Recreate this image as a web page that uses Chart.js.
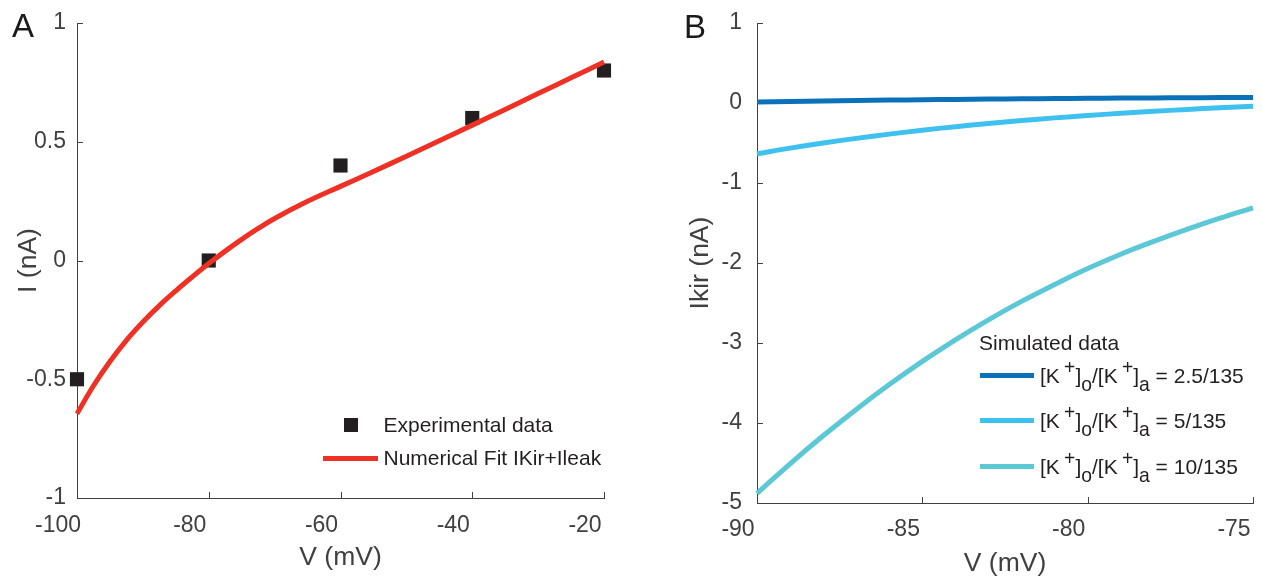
<!DOCTYPE html>
<html>
<head>
<meta charset="utf-8">
<script src="https://cdn.jsdelivr.net/npm/chart.js@4"></script>
<style>
  html, body { margin: 0; padding: 0; background: #fff; }
  body { width: 1262px; height: 583px; position: relative; overflow: hidden; font-family: 'Liberation Sans', Arial, sans-serif; }
  .panel { position: absolute; top: 0; width: 631px; height: 583px; }
  .letter { position: absolute; font-size: 33px; line-height: 33px; color: #1a1a1a; }
  .leg { position: absolute; font-size: 21px; color: #231f20; white-space: nowrap; height: 30px; line-height: 30px; }
  .sw { position: absolute; height: 5px; }
  .leg sup, .leg sub { font-size: 0.92em; position: relative; vertical-align: baseline; }
  .leg sup { top: -0.45em; margin-left: 0.22em; }
  .leg sub { top: 0.45em; }
</style>
</head>
<body>
<div class="panel" style="left:0"><canvas id="chartA" width="631" height="583"></canvas></div>
<div class="panel" style="left:631px"><canvas id="chartB" width="631" height="583"></canvas></div>
<div class="letter" style="left:12px; top:9px">A</div>
<div class="letter" style="left:684px; top:10px">B</div>
<div id="legendA"></div>
<div id="legendB"></div>
<script>
// panel A: measured I-V points and the fitted curve
const vExp = [-100, -80, -60, -40, -20];
const iExp = [-0.5, 0, 0.4, 0.6, 0.8];
const vFit = [-100, -97.5, -95, -92.5, -90, -87.5, -85, -82.5, -80, -77.5, -75, -72.5, -70, -65, -60, -55, -50, -45, -40, -35, -30, -25, -20];
const iFit = [-0.645, -0.5275, -0.425, -0.336, -0.259, -0.19, -0.1275, -0.069, -0.013, 0.0395, 0.089, 0.135, 0.177, 0.249, 0.312, 0.375, 0.439, 0.504, 0.57, 0.636, 0.703, 0.769, 0.836];
const xTicksA = [-100, -80, -60, -40, -20];
const yTicksA = [-1, -0.5, 0, 0.5, 1];
const labelsA = ['Experimental data', 'Numerical Fit IKir+Ileak'];

// panel B: simulated Ikir for three potassium ratios
const vSim = [-90, -89, -88, -87, -86, -85, -84, -83, -82, -81, -80, -79, -78, -77, -76, -75];
const iSim25 = [0.012, 0.019, 0.025, 0.031, 0.036, 0.041, 0.045, 0.049, 0.053, 0.056, 0.059, 0.062, 0.064, 0.066, 0.068, 0.07];
const iSim5 = [-0.635, -0.564, -0.5, -0.442, -0.389, -0.34, -0.296, -0.256, -0.219, -0.186, -0.156, -0.129, -0.104, -0.081, -0.06, -0.041];
const iSim10 = [-4.88, -4.51, -4.16, -3.83, -3.52, -3.23, -2.96, -2.71, -2.48, -2.27, -2.07, -1.89, -1.73, -1.58, -1.44, -1.31];
const xTicksB = [-90, -85, -80, -75];
const yTicksB = [-5, -4, -3, -2, -1, 0, 1];
const ratiosB = ['2.5/135', '5/135', '10/135'];
const coloursB = ['#0b72ba', '#3ec1ee', '#5cc8d6'];

const axisColor = '#404040';
const tickFont = { family: 'Liberation Sans', size: 23 };
const titleFont = { family: 'Liberation Sans', size: 26.5 };

// matlab style ticks, pointing into the plot
const inwardTicks = {
  id: 'inwardTicks',
  beforeDatasetsDraw(chart) {
    const { ctx, chartArea: a, scales } = chart;
    ctx.save();
    ctx.strokeStyle = axisColor;
    ctx.lineWidth = 1;
    ctx.beginPath();
    scales.x.ticks.forEach(t => {
      const px = Math.round(scales.x.getPixelForValue(t.value)) + 0.5;
      ctx.moveTo(px, a.bottom); ctx.lineTo(px, a.bottom - 6);
    });
    scales.y.ticks.forEach(t => {
      const py = Math.round(scales.y.getPixelForValue(t.value)) + 0.5;
      ctx.moveTo(a.left, py); ctx.lineTo(a.left + 6, py);
    });
    ctx.stroke();
    ctx.restore();
  }
};

function pts(xs, ys) { return xs.map((x, i) => ({ x: x, y: ys[i] })); }

function axes(o) {
  return {
    x: {
      type: 'linear', min: o.xTicks[0], max: o.xTicks[o.xTicks.length - 1],
      afterBuildTicks: s => { s.ticks = o.xTicks.map(v => ({ value: v })); },
      afterFit: s => { s.height = o.xHeight; s.paddingLeft = 0; s.paddingRight = 0; },
      grid: { display: false, drawTicks: false },
      border: { display: true, color: axisColor, width: 1 },
      ticks: { font: tickFont, color: axisColor, padding: o.xPad, labelOffset: -19, maxRotation: 0, callback: v => String(v) },
      title: { display: true, text: 'V (mV)', font: titleFont, color: axisColor, padding: { top: 0, bottom: o.xTitlePad } }
    },
    y: {
      type: 'linear', min: o.yTicks[0], max: o.yTicks[o.yTicks.length - 1],
      afterBuildTicks: s => { s.ticks = o.yTicks.map(v => ({ value: v })); },
      afterFit: s => { s.width = o.yWidth; s.paddingTop = 0; s.paddingBottom = 0; },
      grid: { display: false, drawTicks: false },
      border: { display: true, color: axisColor, width: 1 },
      ticks: { font: tickFont, color: axisColor, padding: o.yPad, callback: v => String(v) },
      title: { display: true, text: o.yTitle, font: titleFont, color: axisColor, padding: { top: o.yTitlePad, bottom: 0 } }
    }
  };
}

const common = {
  responsive: false, animation: false, devicePixelRatio: 1,
  plugins: { legend: { display: false }, tooltip: { enabled: false } },
  events: []
};

new Chart(document.getElementById('chartA'), {
  type: 'scatter',
  data: {
    datasets: [
      { label: labelsA[1], data: pts(vFit, iFit), showLine: true, borderColor: '#ee3124', borderWidth: 5,
        pointRadius: 0, tension: 0.4, clip: false },
      { label: labelsA[0], data: pts(vExp, iExp), pointStyle: 'rect', pointRadius: 10,
        backgroundColor: '#231f20', borderWidth: 0, clip: false }
    ]
  },
  options: Object.assign({}, common, {
    layout: { padding: { top: 23, right: 27, bottom: 0, left: 0 } },
    scales: axes({ xTicks: xTicksA, yTicks: yTicksA, xHeight: 85, yWidth: 77, xPad: 14, yPad: 11,
                   xTitlePad: 9.6, yTitle: 'I (nA)', yTitlePad: 12.4 })
  }),
  plugins: [inwardTicks]
});

const seriesB = [iSim25, iSim5, iSim10];
new Chart(document.getElementById('chartB'), {
  type: 'scatter',
  data: {
    datasets: seriesB.map((ys, i) => ({
      label: ratiosB[i], data: pts(vSim, ys), showLine: true, borderColor: coloursB[i], borderWidth: 5,
      pointRadius: 0, tension: 0.4, clip: false
    }))
  },
  options: Object.assign({}, common, {
    layout: { padding: { top: 23, right: 9, bottom: 0, left: 0 } },
    scales: axes({ xTicks: xTicksB, yTicks: yTicksB, xHeight: 80, yWidth: 126, xPad: 12.5, yPad: 15,
                   xTitlePad: 3.6, yTitle: 'Ikir (nA)', yTitlePad: 54 })
  }),
  plugins: [inwardTicks]
});

// legends (html so the sub/superscripts stay real text)
const legA = document.getElementById('legendA');
legA.innerHTML =
  '<div style="position:absolute;left:343.5px;top:418px;width:14px;height:14px;background:#231f20"></div>' +
  '<div class="leg" style="left:383.5px;top:410px">' + labelsA[0] + '</div>' +
  '<div class="sw" style="left:323px;top:455.5px;width:55px;background:#ee3124"></div>' +
  '<div class="leg" style="left:383.5px;top:443px">' + labelsA[1] + '</div>';

const legB = document.getElementById('legendB');
let html = '<div class="leg" style="left:979px;top:328px">Simulated data</div>';
const rowY = [375.5, 420.7, 466.7];
ratiosB.forEach((r, i) => {
  html += '<div class="sw" style="left:980px;top:' + (rowY[i] - 2.5) + 'px;width:54px;background:' + coloursB[i] + '"></div>';
  html += '<div class="leg" style="left:1040px;top:' + (rowY[i] - 15) + 'px">[K<sup>+</sup>]<sub>o</sub>/[K<sup>+</sup>]<sub>a</sub> = ' + r + '</div>';
});
legB.innerHTML = html;
</script>
</body>
</html>
